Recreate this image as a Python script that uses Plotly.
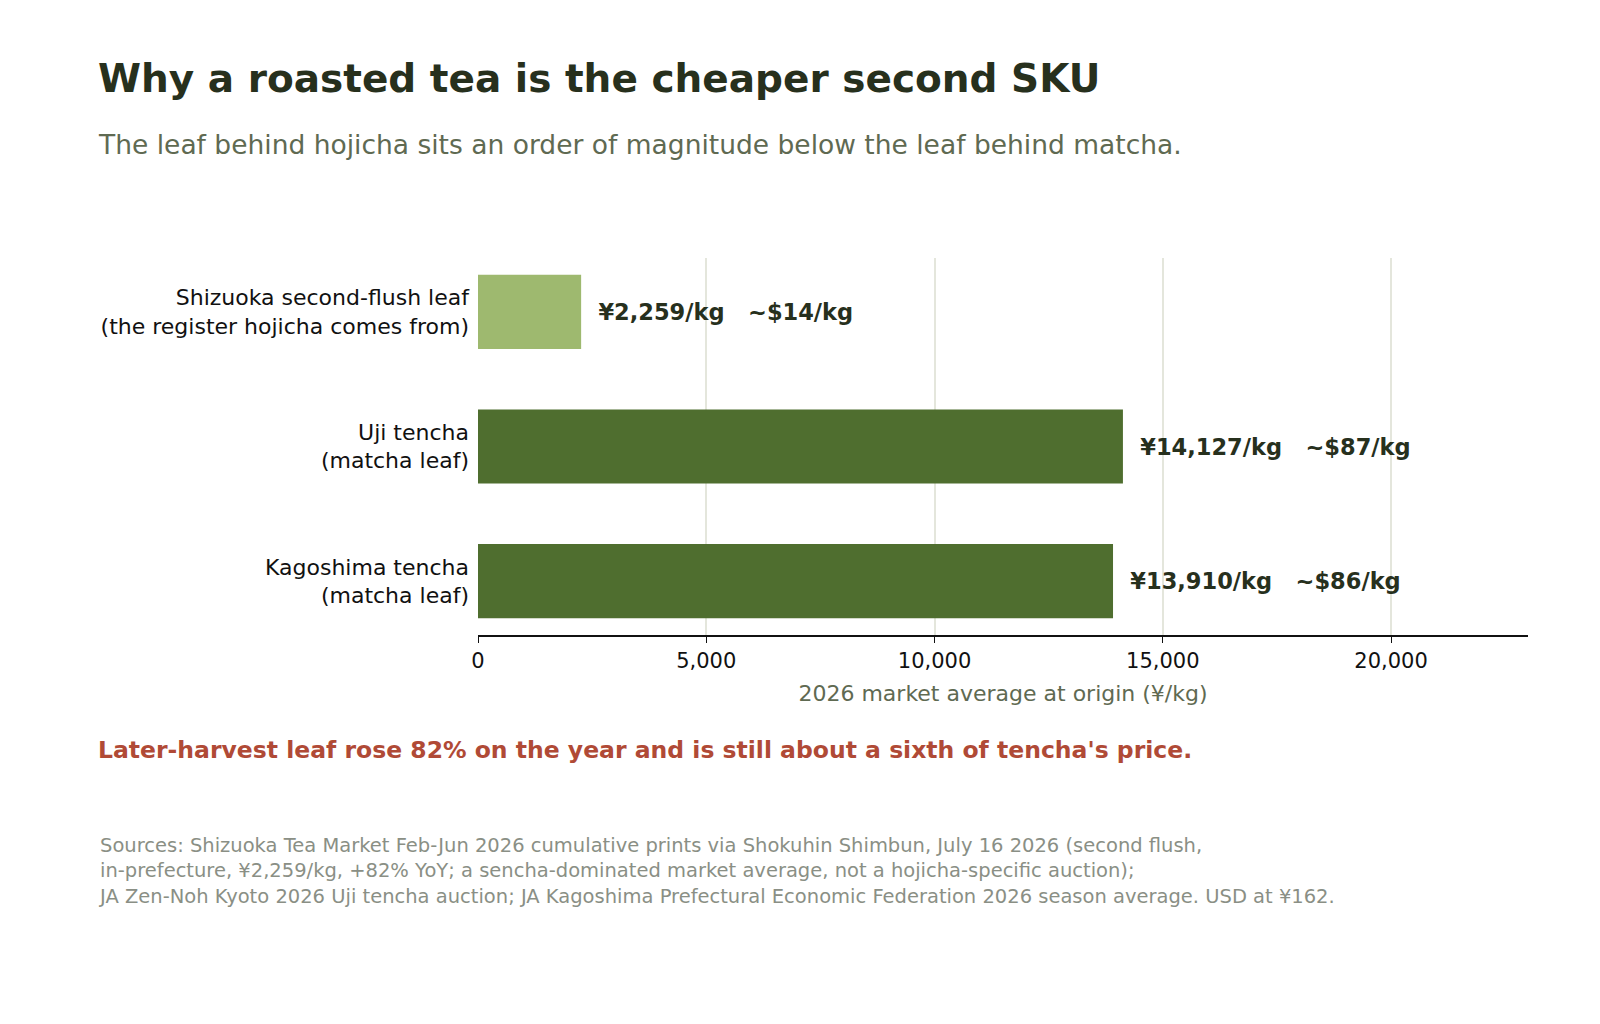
import plotly.graph_objects as go

categories = ["Shizuoka second-flush leaf<br>(the register hojicha comes from)",
              "Uji tencha<br>(matcha leaf)",
              "Kagoshima tencha<br>(matcha leaf)"]
yen_per_kg = [2259, 14127, 13910]
usd_per_kg = [14, 87, 86]
bar_colors = ["#9eb96f", "#4f6e2f", "#4f6e2f"]
tick_vals = [0, 5000, 10000, 15000, 20000]
tick_text = ["0", "5,000", "10,000", "15,000", "20,000"]

labels = [f"  <b>¥{y:,}/kg   ~${u}/kg</b>" for y, u in zip(yen_per_kg, usd_per_kg)]

fig = go.Figure(go.Bar(
    x=yen_per_kg, y=[0, 1, 2], orientation="h", width=0.55,
    marker=dict(color=bar_colors, line=dict(width=0)),
    text=labels, textposition="outside", cliponaxis=False,
    textfont=dict(family="DejaVu Sans", size=22.5, color="#27301d"),
))

L, R, T, B = 470, 80, 250, 397
W, H = 1600, 1024
pw, ph = W - L - R, H - T - B
def px(x): return (x - L) / pw
def py(y): return (H - B - y) / ph

fig.update_layout(
    width=W, height=H, margin=dict(l=L, r=R, t=T, b=B),
    paper_bgcolor="white", plot_bgcolor="white", showlegend=False,
    font=dict(family="DejaVu Sans", color="#111"),
    xaxis=dict(range=[0, 23000], tickvals=tick_vals, ticktext=tick_text,
               showgrid=True, gridcolor="#e4e6dc", gridwidth=1.5,
               showline=True, linecolor="#111", linewidth=1.5, zeroline=False,
               ticks="outside", ticklen=6, tickcolor="#111",
               tickfont=dict(size=21, color="#111"),
               title=dict(text="2026 market average at origin (¥/kg)",
                          font=dict(size=22, color="#5f6a52"), standoff=14)),
    yaxis=dict(range=[2.4, -0.4], tickvals=[0, 1, 2], ticktext=categories,
               tickfont=dict(size=22, color="#111"),
               ticks="", ticklabelstandoff=8, showgrid=False, zeroline=False),
)

def ann(text, x, y, size, color, bold=False):
    fig.add_annotation(text=f"<b>{text}</b>" if bold else text, xref="paper", yref="paper",
                       x=px(x), y=py(y), xanchor="left", yanchor="middle", showarrow=False,
                       align="left", font=dict(size=size, color=color, family="DejaVu Sans"))

ann("Why a roasted tea is the cheaper second SKU", 88, 70, 39, "#27301d", True)
ann("The leaf behind hojicha sits an order of magnitude below the leaf behind matcha.", 88, 136, 26.5, "#5f6a52")
ann("Later-harvest leaf rose 82% on the year and is still about a sixth of tencha's price.", 88, 742, 23.5, "#b04a36", True)
fig.add_annotation(
    text="Sources: Shizuoka Tea Market Feb-Jun 2026 cumulative prints via Shokuhin Shimbun, July 16 2026 (second flush,<br>"
         "in-prefecture, ¥2,259/kg, +82% YoY; a sencha-dominated market average, not a hojicha-specific auction);<br>"
         "JA Zen-Noh Kyoto 2026 Uji tencha auction; JA Kagoshima Prefectural Economic Federation 2026 season average. USD at ¥162.",
    xref="paper", yref="paper", x=px(88), y=py(824), xanchor="left", yanchor="top",
    showarrow=False, align="left", font=dict(size=19.5, color="#8a8f85", family="DejaVu Sans"))

fig.write_html("out.html")
